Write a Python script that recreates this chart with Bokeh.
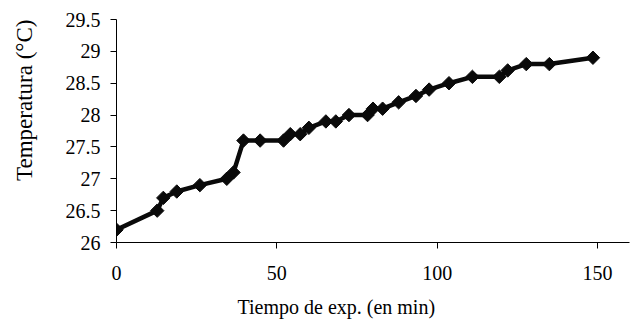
import math
from bokeh.plotting import figure
from bokeh.models import Range1d, FixedTicker, Title
from bokeh.embed import file_html
from bokeh.resources import INLINE

# Data
tiempo_min = [0, 12.7, 14.6, 18.8, 26, 34.4, 36.5, 39.6, 44.8, 52.1, 54.2, 57.3,
              60, 65.3, 68.4, 72.5, 78.3, 80, 83, 88, 93.4, 97.5, 103.7, 111,
              119.4, 122, 127.8, 135, 148.6]
temperatura_c = [26.2, 26.5, 26.7, 26.8, 26.9, 27.0, 27.1, 27.6, 27.6, 27.6, 27.7, 27.7,
                 27.8, 27.9, 27.9, 28.0, 28.0, 28.1, 28.1, 28.2, 28.3, 28.4, 28.5, 28.6,
                 28.6, 28.7, 28.8, 28.8, 28.9]

x_ticks = [0, 50, 100, 150]
x_tick_labels = ["0", "50", "100", "150"]
y_ticks = [26, 26.5, 27, 27.5, 28, 28.5, 29, 29.5]
y_tick_labels = ["26", "26.5", "27", "27.5", "28", "28.5", "29", "29.5"]

x_title = "Tiempo de exp. (en min)"
y_title = "Temperatura (°C)"

FONT = "Liberation Serif"
INK = "#0a0a0a"

p = figure(width=642, height=322, output_backend="svg", toolbar_location=None,
           x_range=Range1d(0, 160), y_range=Range1d(26, 29.5),
           min_border_left=116, min_border_right=13, min_border_top=19,
           min_border_bottom=80)
p.outline_line_color = None
p.xgrid.grid_line_color = None
p.ygrid.grid_line_color = None
p.background_fill_color = "white"
p.border_fill_color = "white"

p.line(tiempo_min, temperatura_c, line_width=4.5, line_color=INK)
p.scatter(tiempo_min, temperatura_c, marker="square", size=9.5, angle=math.pi / 4,
          fill_color=INK, line_color=INK)

for ax in (p.xaxis[0], p.yaxis[0]):
    ax.axis_line_color = "black"
    ax.axis_line_width = 1
    ax.major_tick_line_color = "black"
    ax.major_tick_out = 6
    ax.major_tick_in = 0
    ax.minor_tick_line_color = None
    ax.major_label_text_font = FONT
    ax.major_label_text_font_size = "20px"
    ax.major_label_text_color = "black"
    # blank axis label used only as a spacer before the titles
    ax.axis_label = " "
    ax.axis_label_text_font_size = "1px"

p.xaxis[0].ticker = FixedTicker(ticks=x_ticks)
p.xaxis[0].major_label_overrides = dict(zip(x_ticks, x_tick_labels))
p.xaxis[0].major_label_standoff = 17
p.xaxis[0].axis_label_standoff = 2
p.yaxis[0].ticker = FixedTicker(ticks=y_ticks)
p.yaxis[0].major_label_standoff = 10
p.yaxis[0].major_label_overrides = dict(zip(y_ticks, y_tick_labels))
p.yaxis[0].axis_label_standoff = 17

p.add_layout(Title(text=x_title, align="left", offset=121, text_font=FONT,
                   text_font_size="20px", text_font_style="normal",
                   text_color="black"), "below")
p.add_layout(Title(text=y_title, align="right", offset=0, text_font=FONT,
                   text_font_size="23px", text_font_style="normal",
                   text_color="black"), "left")

open("out.html", "w").write(file_html(p, INLINE))
